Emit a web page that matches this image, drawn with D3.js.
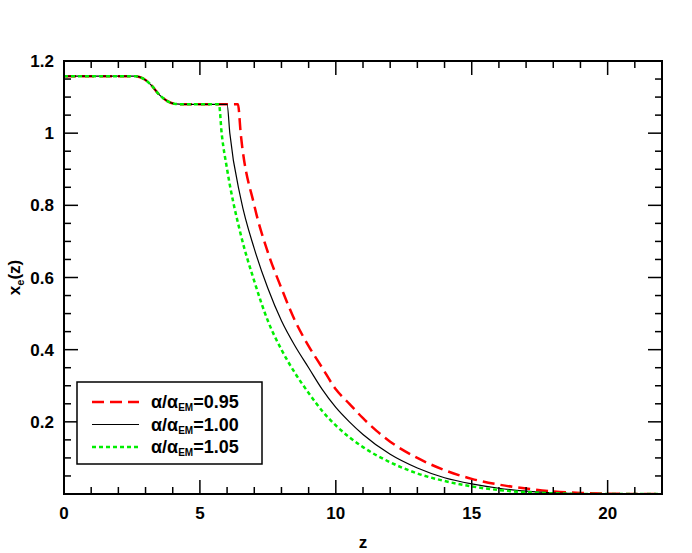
<!DOCTYPE html><html><head><script src="https://cdn.jsdelivr.net/npm/d3@7"></script>
<style>body{margin:0;background:#fff}text{font-family:"Liberation Sans",Arial,sans-serif;font-weight:bold}</style></head><body>
<svg id="c" width="692" height="553"></svg>
<script>
const plateauZ=[0,2.6,2.9,3.2,3.5,3.8,4.1,4.4,4.8];
const plateauX=[1.158,1.158,1.152,1.134,1.107,1.089,1.081,1.08,1.08];
const redZ=[6.4,6.5,7,7.5,8,8.5,9,9.5,10,10.5,11,11.5,12,13,14,15,16,17,18,19,20,21,22];
const redX=[1.08,1.0,0.8,0.67,0.57,0.48,0.41,0.35,0.29,0.25,0.21,0.175,0.145,0.1,0.066,0.042,0.026,0.015,0.007,0.003,0.001,0,0];
const blackZ=[6.0,6.1,6.5,7,7.5,8,8.5,9,9.5,10,10.5,11,12,13,14,15,16,17,18,19,20,22];
const blackX=[1.08,1.0,0.82,0.68,0.57,0.48,0.41,0.35,0.29,0.24,0.2,0.165,0.11,0.072,0.045,0.028,0.016,0.008,0.003,0.001,0,0];
const greenZ=[5.7,5.8,6,6.5,7,7.5,8,8.5,9,9.5,10,11,12,13,14,15,16,17,18,19,22];
const greenX=[1.08,1.0,0.9,0.72,0.59,0.48,0.4,0.335,0.28,0.23,0.19,0.13,0.088,0.057,0.036,0.021,0.011,0.005,0.002,0,0];
const series=[
 {name:"0.95",z:redZ,x:redX,color:"#ff0000",dash:"12,6",w:2.5},
 {name:"1.00",z:blackZ,x:blackX,color:"#000",dash:null,w:1.2},
 {name:"1.05",z:greenZ,x:greenX,color:"#00ee00",dash:"4,3",w:2.5}];
const xTicks=[0,5,10,15,20], yTicks=[0.2,0.4,0.6,0.8,1,1.2];
const L=64,R=662,T=61,B=494;
const svg=d3.select("#c");
const x=d3.scaleLinear().domain([0,22]).range([L,R]);
const y=d3.scaleLinear().domain([0,1.2]).range([B,T]);
const line=d3.line().x(d=>x(d[0])).y(d=>y(d[1])).curve(d3.curveMonotoneX);
svg.append("defs").append("clipPath").attr("id","cp").append("rect").attr("x",L).attr("y",T).attr("width",R-L).attr("height",B-T);
const lg=svg.append("g").attr("clip-path","url(#cp)");
series.forEach(s=>{
 const pts=plateauZ.map((z,i)=>[z,plateauX[i]]).filter(p=>p[0]<s.z[0]).concat(s.z.map((z,i)=>[z,s.x[i]]));
 lg.append("path").attr("d",line(pts)).attr("fill","none").attr("stroke",s.color).attr("stroke-width",s.w).attr("stroke-dasharray",s.dash);
});
const tk=svg.append("g").attr("stroke","#000").attr("stroke-width",1.5);
d3.range(0,22.01,1).forEach(v=>{const len=v%5==0?14:7;
 tk.append("line").attr("x1",x(v)).attr("x2",x(v)).attr("y1",B).attr("y2",B-len);
 tk.append("line").attr("x1",x(v)).attr("x2",x(v)).attr("y1",T).attr("y2",T+len);});
d3.range(0,1.2001,0.05).forEach(v=>{const major=Math.abs(v/0.2-Math.round(v/0.2))<1e-6;const len=major?14:7;
 tk.append("line").attr("y1",y(v)).attr("y2",y(v)).attr("x1",L).attr("x2",L+len);
 tk.append("line").attr("y1",y(v)).attr("y2",y(v)).attr("x1",R).attr("x2",R-len);});
svg.append("rect").attr("x",L).attr("y",T).attr("width",R-L).attr("height",B-T).attr("fill","none").attr("stroke","#000").attr("stroke-width",2);
xTicks.forEach(v=>svg.append("text").attr("x",x(v)).attr("y",B+25).attr("text-anchor","middle").attr("font-size",17).text(v));
yTicks.forEach(v=>svg.append("text").attr("x",L-10).attr("y",y(v)+6).attr("text-anchor","end").attr("font-size",17).text(v));
svg.append("text").attr("x",(L+R)/2).attr("y",548).attr("text-anchor","middle").attr("font-size",17).text("z");
const yl=svg.append("text").attr("transform",`translate(20,${(T+B)/2}) rotate(-90)`).attr("text-anchor","middle").attr("font-size",17);
yl.append("tspan").text("x");yl.append("tspan").attr("font-size",11).attr("dy",4).text("e");yl.append("tspan").attr("dy",-4).text("(z)");
svg.append("rect").attr("x",77).attr("y",382).attr("width",185).attr("height",82).attr("fill","#fff").attr("stroke","#000").attr("stroke-width",1.5);
series.forEach((s,i)=>{const yy=402+i*22.5;
 svg.append("line").attr("x1",92).attr("x2",139).attr("y1",yy).attr("y2",yy).attr("stroke",s.color).attr("stroke-width",s.w).attr("stroke-dasharray",s.dash);
 const t=svg.append("text").attr("x",151).attr("y",yy+6).attr("font-size",18);
 t.append("tspan").text("α/α");t.append("tspan").attr("font-size",10).attr("dy",3).text("EM");t.append("tspan").attr("dy",-3).text("="+s.name);
});
</script></body></html>
